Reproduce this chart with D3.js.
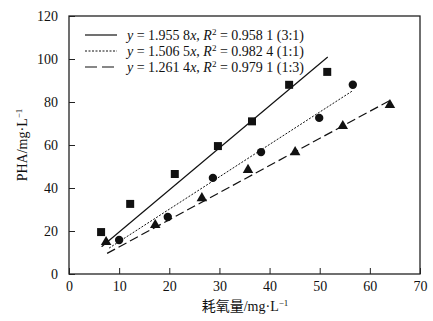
<!DOCTYPE html>
<html><head><meta charset="utf-8">
<script src="https://cdn.jsdelivr.net/npm/d3@7"></script>
<style>body{margin:0;background:#fff}svg{display:block}text{font-family:"Liberation Serif","DejaVu Serif",serif}</style>
</head><body>
<script>
const sqX=[6.4,12.2,21.1,29.7,36.5,43.9,51.5];
const sqY=[19.5,32.6,46.5,59.5,71.0,88.0,94.0];
const ciX=[10.0,19.7,28.7,38.3,49.9,56.6];
const ciY=[15.8,26.5,44.7,56.7,72.6,88.0];
const trX=[7.4,17.2,26.5,35.7,45.1,54.6,64.0];
const trY=[14.9,22.8,35.3,48.4,56.7,68.8,78.6];
const slopes=[1.9558,1.5065,1.2614];
const fitRanges=[[6.5,51.6],[8,56.6],[7.6,64]];
const legendSlope=["1.955 8","1.506 5","1.261 4"];
const legendR2=["0.958 1","0.982 4","0.979 1"];
const legendRatio=["(3:1)","(1:1)","(1:3)"];
const xTicks=[0,10,20,30,40,50,60,70];
const yTicks=[0,20,40,60,80,100,120];

const W=433,H=321,L=69,R=420,T=16,B=274;
const svg=d3.select("body").append("svg").attr("width",W).attr("height",H);
const x=d3.scaleLinear().domain([0,70]).range([L,R]);
const y=d3.scaleLinear().domain([0,120]).range([B,T]);

svg.append("rect").attr("x",L).attr("y",T).attr("width",R-L).attr("height",B-T)
  .attr("fill","none").attr("stroke","#222").attr("stroke-width",1.3);

const xa=svg.append("g").attr("transform",`translate(0,${B})`)
  .call(d3.axisBottom(x).tickValues(xTicks).tickSizeInner(-6).tickSizeOuter(0).tickPadding(7));
const ya=svg.append("g").attr("transform",`translate(${L},0)`)
  .call(d3.axisLeft(y).tickValues(yTicks).tickSizeInner(-6).tickSizeOuter(0).tickPadding(11));
[xa,ya].forEach(g=>{g.select(".domain").remove();
  g.selectAll("line").attr("stroke","#222").attr("stroke-width",1);
  g.selectAll("text").attr("font-size",14).attr("fill","#111").style("font-family","Liberation Serif");});

// axis titles
svg.append("text").attr("x",245).attr("y",311).attr("text-anchor","middle").attr("font-size",14).attr("fill","#111")
  .style("font-family","'Liberation Serif','Noto Sans CJK SC',serif")
  .html('耗氧量/mg·L<tspan font-size="9" dy="-5">−1</tspan>');
svg.append("text").attr("transform","translate(27,145) rotate(-90)").attr("text-anchor","middle").attr("font-size",14).attr("fill","#111")
  .html('PHA/mg·L<tspan font-size="9" dy="-5">−1</tspan>');

// fit lines
const dashes=[null,"2,1.5","9,4"];
slopes.forEach((s,i)=>{
  const [a,b]=fitRanges[i];
  svg.append("line").attr("x1",x(a)).attr("y1",y(s*a)).attr("x2",x(b)).attr("y2",y(s*b))
    .attr("stroke","#111").attr("stroke-width",i==1?1:1.2).attr("stroke-dasharray",dashes[i]);
});

// markers
svg.append("g").selectAll("path").data(sqX).join("path")
  .attr("d",d3.symbol(d3.symbolSquare,64)).attr("transform",(d,i)=>`translate(${x(d)},${y(sqY[i])})`).attr("fill","#111");
svg.append("g").selectAll("path").data(ciX).join("path")
  .attr("d",d3.symbol(d3.symbolCircle,55)).attr("transform",(d,i)=>`translate(${x(d)},${y(ciY[i])})`).attr("fill","#111");
svg.append("g").selectAll("path").data(trX).join("path")
  .attr("d",d3.symbol(d3.symbolTriangle,48)).attr("transform",(d,i)=>`translate(${x(d)},${y(trY[i])})`).attr("fill","#111");

// legend
const ly=[35,51,67];
legendSlope.forEach((s,i)=>{
  svg.append("line").attr("x1",85).attr("x2",117).attr("y1",ly[i]).attr("y2",ly[i])
    .attr("stroke","#111").attr("stroke-width",i==1?1:1.2).attr("stroke-dasharray",i==2?"12,5":dashes[i]);
  const t=svg.append("text").attr("x",127).attr("y",ly[i]+4.5).attr("font-size",14).attr("fill","#111");
  t.append("tspan").text("y").attr("font-style","italic");
  t.append("tspan").text(` = ${s}`);
  t.append("tspan").text("x").attr("font-style","italic");
  t.append("tspan").text(", ");
  t.append("tspan").text("R").attr("font-style","italic");
  t.append("tspan").text("2").attr("font-size",9).attr("dy",-5);
  t.append("tspan").text(` = ${legendR2[i]} ${legendRatio[i]}`).attr("dy",5);
});
</script>
</body></html>
